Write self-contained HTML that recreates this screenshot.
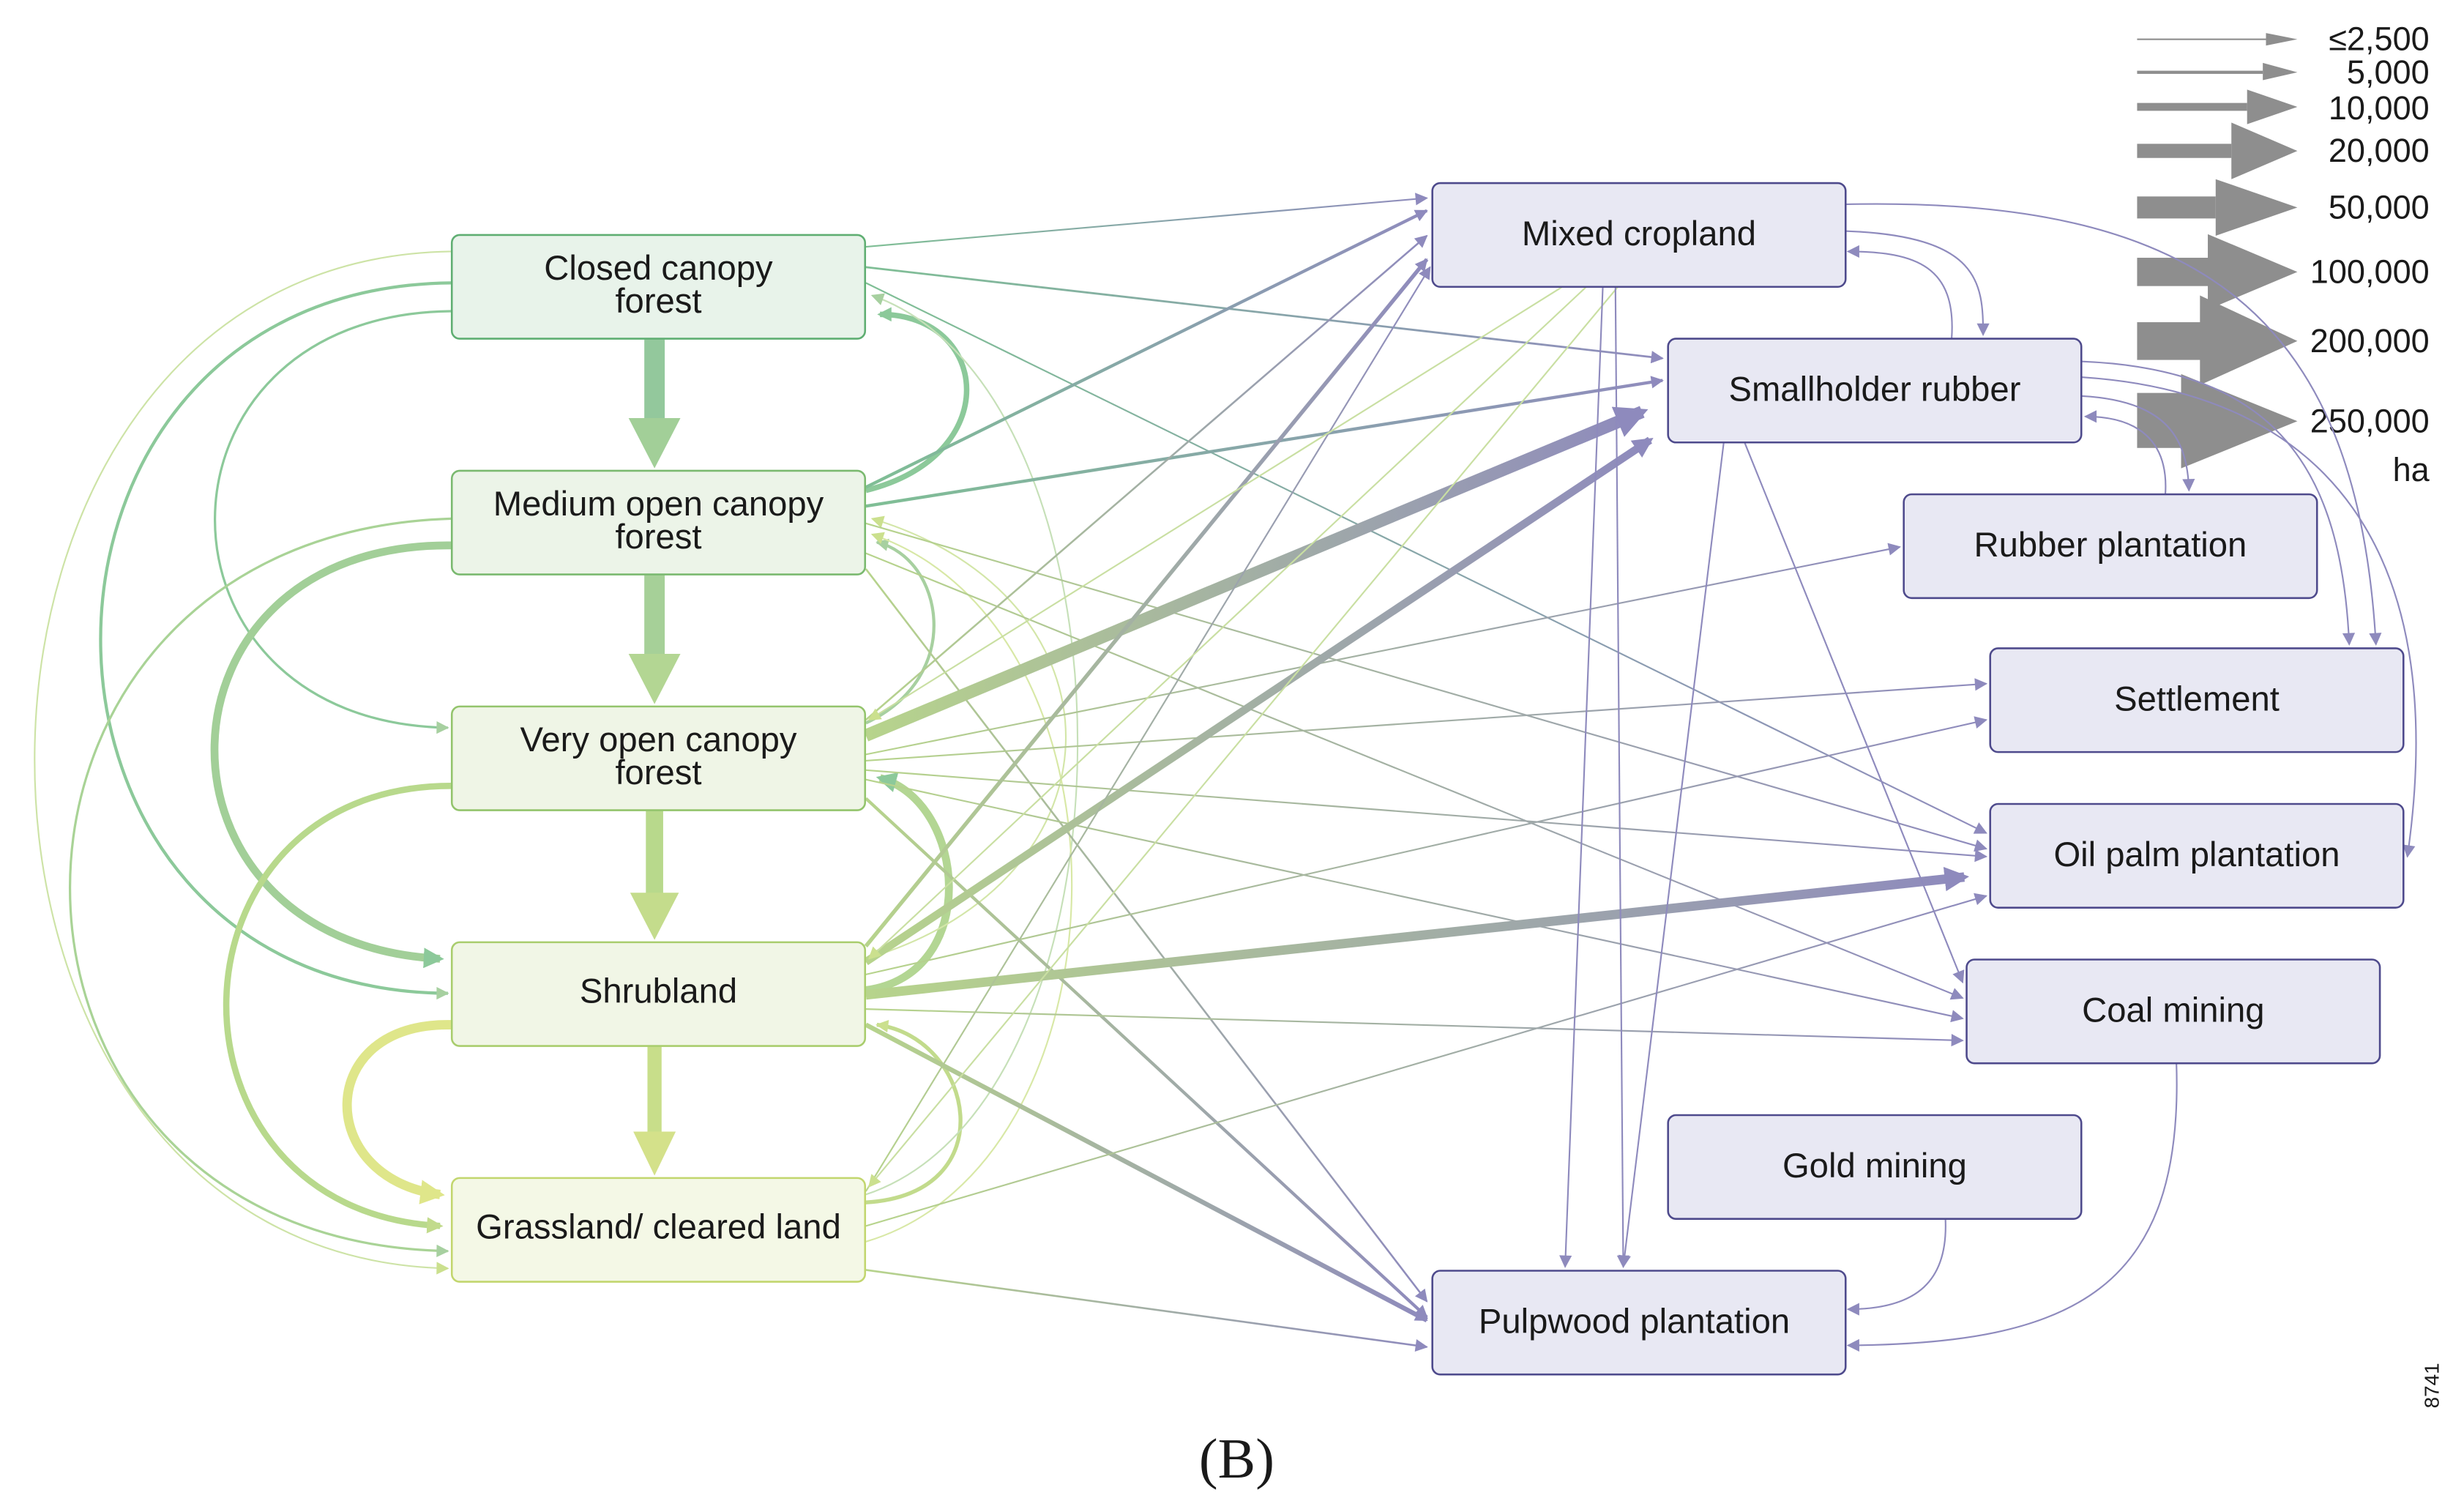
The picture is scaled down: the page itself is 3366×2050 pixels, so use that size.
<!DOCTYPE html>
<html><head><meta charset="utf-8">
<style>
html,body{margin:0;padding:0;background:#fff;}
svg{display:block;}
text{font-family:"Liberation Sans","DejaVu Sans",sans-serif;fill:#1a1a1a;}
</style></head>
<body>
<svg width="3366" height="2050" viewBox="0 0 1568 955" xmlns="http://www.w3.org/2000/svg">
<defs>
<linearGradient id="gp" x1="0" y1="0" x2="1" y2="0"><stop offset="0" stop-color="#b7d48c"/><stop offset="1" stop-color="#8e8abd"/></linearGradient>
<linearGradient id="gp2" x1="0" y1="0" x2="1" y2="0"><stop offset="0" stop-color="#7fbf95"/><stop offset="1" stop-color="#908cbd"/></linearGradient>
<marker id="pt" viewBox="0 0 10 10" refX="9" refY="5" markerWidth="9" markerHeight="8" markerUnits="userSpaceOnUse" orient="auto"><path d="M0,0L10,5L0,10z" fill="#8e8abd"/></marker>
<marker id="gt" viewBox="0 0 10 10" refX="9" refY="5" markerWidth="9" markerHeight="8" markerUnits="userSpaceOnUse" orient="auto"><path d="M0,0L10,5L0,10z" fill="#a7d0a0"/></marker>
<marker id="yt" viewBox="0 0 10 10" refX="9" refY="5" markerWidth="9" markerHeight="8" markerUnits="userSpaceOnUse" orient="auto"><path d="M0,0L10,5L0,10z" fill="#cbe08e"/></marker>
<marker id="pT" viewBox="0 0 10 10" refX="8" refY="5" markerWidth="2.6" markerHeight="2.6" orient="auto"><path d="M0,0L10,5L0,10z" fill="#8e8abd"/></marker>
<marker id="gT" viewBox="0 0 10 10" refX="8" refY="5" markerWidth="2.6" markerHeight="2.6" orient="auto"><path d="M0,0L10,5L0,10z" fill="#8cc99a"/></marker>
<marker id="yT" viewBox="0 0 10 10" refX="8" refY="5" markerWidth="2.6" markerHeight="2.6" orient="auto"><path d="M0,0L10,5L0,10z" fill="#c2db8c"/></marker>
<marker id="lT" viewBox="0 0 10 10" refX="8" refY="5" markerWidth="2.6" markerHeight="2.6" orient="auto"><path d="M0,0L10,5L0,10z" fill="#dfe68a"/></marker>
</defs>

<!-- legend -->
<g fill="#8e8e8e">
<rect x="1360" y="24.5" width="82" height="1"/><path d="M1442,21L1462,25L1442,29z"/>
<rect x="1360" y="45" width="80" height="2"/><path d="M1440,40L1462,46L1440,51z"/>
<rect x="1360" y="65.5" width="70" height="5"/><path d="M1430,57L1462,68L1430,79z"/>
<rect x="1360" y="91.5" width="60" height="9"/><path d="M1420,78L1462,96L1420,114z"/>
<rect x="1360" y="125" width="50" height="14"/><path d="M1410,114L1462,132L1410,150z"/>
<rect x="1360" y="164" width="50" height="18"/><path d="M1405,149L1462,173L1405,197z"/>
<rect x="1360" y="205" width="45" height="24"/><path d="M1400,188L1462,217L1400,245z"/>
<rect x="1360" y="250" width="35" height="35"/><path d="M1388,238L1462,268L1388,298z"/>
</g>
<g font-size="21" text-anchor="end">
<text x="1546" y="32">≤2,500</text><text x="1546" y="53">5,000</text><text x="1546" y="76">10,000</text>
<text x="1546" y="103">20,000</text><text x="1546" y="139">50,000</text><text x="1546" y="180">100,000</text>
<text x="1546" y="224">200,000</text><text x="1546" y="275">250,000</text><text x="1546" y="306">ha</text>
</g>

<!-- left loops -->
<g fill="none">
<path d="M287,160 C-66,165 -66,800 285,807" stroke="#cde3a6" stroke-width="1" marker-end="url(#yt)"/>
<path d="M287,180 C-10,183 -10,630 285,632" stroke="#8cc99a" stroke-width="2" marker-end="url(#gt)"/>
<path d="M287,198 C87,200 87,460 285,463" stroke="#8cc99a" stroke-width="1.5" marker-end="url(#gt)"/>
<path d="M287,330 C-36,340 -36,790 285,796" stroke="#a9d396" stroke-width="1.5" marker-end="url(#gt)"/>
<path d="M287,347 C90,345 85,600 280,610" stroke="#a2cf98" stroke-width="5" marker-end="url(#gT)"/>
<path d="M287,500 C100,500 95,770 280,780" stroke="#b8d98c" stroke-width="4" marker-end="url(#yT)"/>
<path d="M287,652 C200,650 200,750 280,760" stroke="#dfe68a" stroke-width="6" marker-end="url(#lT)"/>
<!-- right loops -->
<path d="M551,312 C640,290 630,200 560,200" stroke="#8cc99a" stroke-width="3.5" marker-end="url(#gT)"/>
<path d="M551,460 C615,430 600,355 558,345" stroke="#a7d0a0" stroke-width="2" marker-end="url(#gt)"/>
<path d="M551,630 C625,620 615,510 560,495" stroke="#b3d693" stroke-width="5" marker-end="url(#gT)"/>
<path d="M551,765 C640,760 620,660 558,652" stroke="#c2db8c" stroke-width="2.5" marker-end="url(#yt)"/>
<path d="M551,760 C730,700 730,250 555,188" stroke="#c6e0b8" stroke-width="1" marker-end="url(#gt)"/>
<path d="M551,610 C720,560 720,380 555,330" stroke="#d3e6a8" stroke-width="1" marker-end="url(#yt)"/>
<path d="M551,790 C720,740 730,400 555,340" stroke="#d8e8a6" stroke-width="1" marker-end="url(#yt)"/>
</g>

<!-- vertical arrows -->
<g>
<rect x="410" y="216" width="13" height="52" fill="#93c89c"/><path d="M400,266L433,266L416.5,298z" fill="#a2cf98"/>
<rect x="410" y="366" width="13" height="52" fill="#a6d098"/><path d="M400,416L433,416L416.5,448z" fill="#b3d693"/>
<rect x="411" y="516" width="11" height="54" fill="#b8d98c"/><path d="M401,568L432,568L416.5,598z" fill="#c4dc8c"/>
<rect x="412" y="666" width="9" height="56" fill="#c8de8a"/><path d="M403,720L430,720L416.5,748z" fill="#d4e18a"/>
</g>

<!-- cross arrows -->
<g fill="none" stroke="url(#gp)">
<line x1="551" y1="157" x2="908" y2="126" stroke="url(#gp2)" stroke-width="1" marker-end="url(#pt)"/>
<line x1="551" y1="170" x2="1058" y2="228" stroke="url(#gp2)" stroke-width="1.3" marker-end="url(#pt)"/>
<line x1="551" y1="180" x2="1264" y2="530" stroke="url(#gp2)" stroke-width="1" marker-end="url(#pt)"/>
<line x1="551" y1="310" x2="908" y2="134" stroke="url(#gp2)" stroke-width="2" marker-end="url(#pt)"/>
<line x1="551" y1="322" x2="1058" y2="242" stroke="url(#gp2)" stroke-width="2" marker-end="url(#pt)"/>
<line x1="551" y1="333" x2="1264" y2="540" stroke="url(#gp)" stroke-width="1" marker-end="url(#pt)"/>
<line x1="551" y1="352" x2="1249" y2="635" stroke="url(#gp)" stroke-width="1" marker-end="url(#pt)"/>
<line x1="551" y1="362" x2="908" y2="828" stroke="url(#gp)" stroke-width="1.2" marker-end="url(#pt)"/>
<line x1="551" y1="468" x2="1045" y2="262" stroke="url(#gp)" stroke-width="8" marker-end="url(#pT)"/>
<line x1="551" y1="458" x2="908" y2="150" stroke="url(#gp)" stroke-width="1.2" marker-end="url(#pt)"/>
<line x1="551" y1="480" x2="1209" y2="348" stroke="url(#gp)" stroke-width="1" marker-end="url(#pt)"/>
<line x1="551" y1="484" x2="1264" y2="435" stroke="url(#gp)" stroke-width="1" marker-end="url(#pt)"/>
<line x1="551" y1="490" x2="1264" y2="545" stroke="url(#gp)" stroke-width="1" marker-end="url(#pt)"/>
<line x1="551" y1="496" x2="1249" y2="648" stroke="url(#gp)" stroke-width="1" marker-end="url(#pt)"/>
<line x1="551" y1="508" x2="908" y2="838" stroke="url(#gp)" stroke-width="2" marker-end="url(#pt)"/>
<line x1="551" y1="602" x2="908" y2="165" stroke="url(#gp)" stroke-width="2.5" marker-end="url(#pt)"/>
<line x1="551" y1="612" x2="1050" y2="280" stroke="url(#gp)" stroke-width="5" marker-end="url(#pT)"/>
<line x1="551" y1="620" x2="1264" y2="458" stroke="url(#gp)" stroke-width="1" marker-end="url(#pt)"/>
<line x1="551" y1="633" x2="1250" y2="558" stroke="url(#gp)" stroke-width="6" marker-end="url(#pT)"/>
<line x1="551" y1="642" x2="1249" y2="662" stroke="url(#gp)" stroke-width="1" marker-end="url(#pt)"/>
<line x1="551" y1="652" x2="908" y2="840" stroke="url(#gp)" stroke-width="3" marker-end="url(#pt)"/>
<line x1="551" y1="758" x2="910" y2="170" stroke="url(#gp)" stroke-width="1" marker-end="url(#pt)"/>
<line x1="551" y1="780" x2="1264" y2="570" stroke="url(#gp)" stroke-width="1" marker-end="url(#pt)"/>
<line x1="551" y1="808" x2="908" y2="857" stroke="url(#gp)" stroke-width="1.2" marker-end="url(#pt)"/>
<line x1="995" y1="182" x2="553" y2="458" stroke="#c9dfa2" stroke-width="1" marker-end="url(#yt)"/>
<line x1="1010" y1="182" x2="553" y2="610" stroke="#c9dfa2" stroke-width="1" marker-end="url(#yt)"/>
<line x1="1030" y1="182" x2="553" y2="755" stroke="#c9dfa2" stroke-width="1" marker-end="url(#yt)"/>
</g>

<!-- right side connectors -->
<g fill="none" stroke="#8e8abd" stroke-width="1">
<path d="M1174,130 C1400,125 1500,200 1512,410" marker-end="url(#pt)"/>
<path d="M1174,147 C1260,150 1262,180 1262,213" marker-end="url(#pt)"/>
<path d="M1242,215 C1245,170 1220,160 1176,160" marker-end="url(#pt)"/>
<path d="M1325,230 C1450,235 1490,300 1495,410" marker-end="url(#pt)"/>
<path d="M1325,240 C1480,250 1560,350 1532,545" marker-end="url(#pt)"/>
<path d="M1325,252 C1380,255 1392,280 1393,312" marker-end="url(#pt)"/>
<path d="M1378,314 C1380,280 1360,265 1327,265" marker-end="url(#pt)"/>
<line x1="1028" y1="182" x2="1033" y2="806" marker-end="url(#pt)"/>
<line x1="1020" y1="182" x2="996" y2="806" marker-end="url(#pt)"/>
<line x1="1097" y1="281" x2="1033" y2="806" marker-end="url(#pt)"/>
<line x1="1110" y1="281" x2="1249" y2="625" marker-end="url(#pt)"/>
<path d="M1238,775 C1240,815 1220,833 1176,833" marker-end="url(#pt)"/>
<path d="M1385,676 C1390,820 1320,855 1176,856" marker-end="url(#pt)"/>
</g>

<!-- left boxes -->
<g stroke-width="1.2">
<rect x="287.5" y="149.5" width="263" height="66" rx="5" fill="#e8f3ea" stroke="#5fae72"/>
<rect x="287.5" y="299.5" width="263" height="66" rx="5" fill="#ecf4e8" stroke="#7ab96f"/>
<rect x="287.5" y="449.5" width="263" height="66" rx="5" fill="#eff5e6" stroke="#93c46c"/>
<rect x="287.5" y="599.5" width="263" height="66" rx="5" fill="#f1f6e6" stroke="#a9cd6d"/>
<rect x="287.5" y="749.5" width="263" height="66" rx="5" fill="#f4f8e6" stroke="#c2d66e"/>
</g>
<g font-size="22" text-anchor="middle">
<text x="419" y="178">Closed canopy</text><text x="419" y="199">forest</text>
<text x="419" y="328">Medium open canopy</text><text x="419" y="349">forest</text>
<text x="419" y="478">Very open canopy</text><text x="419" y="499">forest</text>
<text x="419" y="638">Shrubland</text>
<text x="419" y="788">Grassland/ cleared land</text>
</g>

<!-- right boxes -->
<g fill="#e8e8f3" stroke="#4e4a8c" stroke-width="1.2">
<rect x="911.5" y="116.5" width="263" height="66" rx="5"/>
<rect x="1061.5" y="215.5" width="263" height="66" rx="5"/>
<rect x="1211.5" y="314.5" width="263" height="66" rx="5"/>
<rect x="1266.5" y="412.5" width="263" height="66" rx="5"/>
<rect x="1266.5" y="511.5" width="263" height="66" rx="5"/>
<rect x="1251.5" y="610.5" width="263" height="66" rx="5"/>
<rect x="1061.5" y="709.5" width="263" height="66" rx="5"/>
<rect x="911.5" y="808.5" width="263" height="66" rx="5"/>
</g>
<g font-size="22" text-anchor="middle">
<text x="1043" y="156">Mixed cropland</text>
<text x="1193" y="255">Smallholder rubber</text>
<text x="1343" y="354">Rubber plantation</text>
<text x="1398" y="452">Settlement</text>
<text x="1398" y="551">Oil palm plantation</text>
<text x="1383" y="650">Coal mining</text>
<text x="1193" y="749">Gold mining</text>
<text x="1040" y="848">Pulpwood plantation</text>
</g>

<text x="787" y="940" font-size="36" text-anchor="middle" style="font-family:'Liberation Serif',serif">(B)</text>
<text x="0" y="0" font-size="13" transform="translate(1552,896) rotate(-90)">8741</text>
</svg>
</body></html>
